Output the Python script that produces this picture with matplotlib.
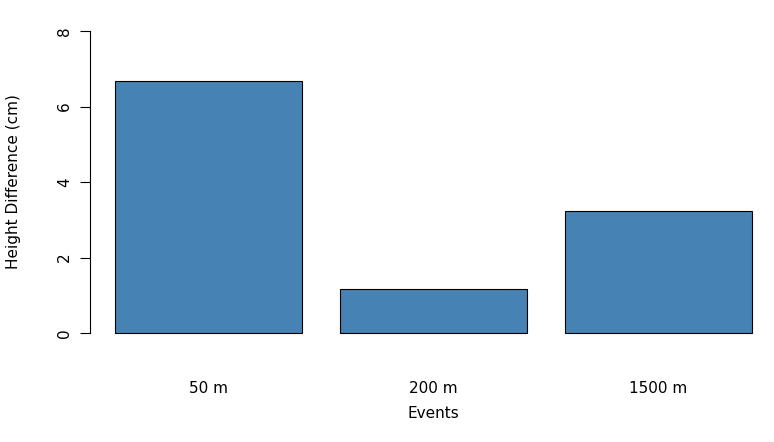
import matplotlib
matplotlib.use("Agg")
import matplotlib.pyplot as plt

categories = ["50 m", "200 m", "1500 m"]
values = [6.68, 1.17, 3.23]
yticks = [0, 2, 4, 6, 8]

W, H = 774, 442
fig = plt.figure(figsize=(W/100, H/100), dpi=100)
# y: 0 -> px 333, 8 -> px 31
ppu = (333-31)/8
ybot = -(H-333)/ppu  # not used; set axes spanning rows 19..345
top_px, bot_px = 19, 345
ax = fig.add_axes([90/W, 1-bot_px/H, (W-90)/W, (bot_px-top_px)/H])
ax.set_ylim((333-bot_px)/ppu, (333-top_px)/ppu)
xppu = (752-115)/3.4
ax.set_xlim(0.2-(115-90)/xppu, 3.6+(W-752)/xppu)
lefts = [0.2 + 1.2*i for i in range(len(values))]
ax.bar(lefts, values, width=1.0, align="edge", color="#4682B4", edgecolor="black", linewidth=0.8)
for s in ["top", "right", "bottom"]:
    ax.spines[s].set_visible(False)
ax.spines["left"].set_bounds(0, 8)
ax.spines["left"].set_linewidth(0.8)
ax.set_yticks(yticks)
ax.set_yticklabels([str(v) for v in yticks], rotation=90, va="center", fontsize=11)
ax.tick_params(axis="y", length=7, width=0.8, pad=6)
ax.set_xticks([l+0.5 for l in lefts])
ax.set_xticklabels(categories, fontsize=11)
ax.tick_params(axis="x", length=0, pad=26)
fig.text(14/W, 1-182/H, "Height Difference (cm)", rotation=90, ha="center", va="center", fontsize=11)
fig.text(433/W, 1-413/H, "Events", ha="center", va="center", fontsize=11)
fig.savefig("out.png", dpi=100)
